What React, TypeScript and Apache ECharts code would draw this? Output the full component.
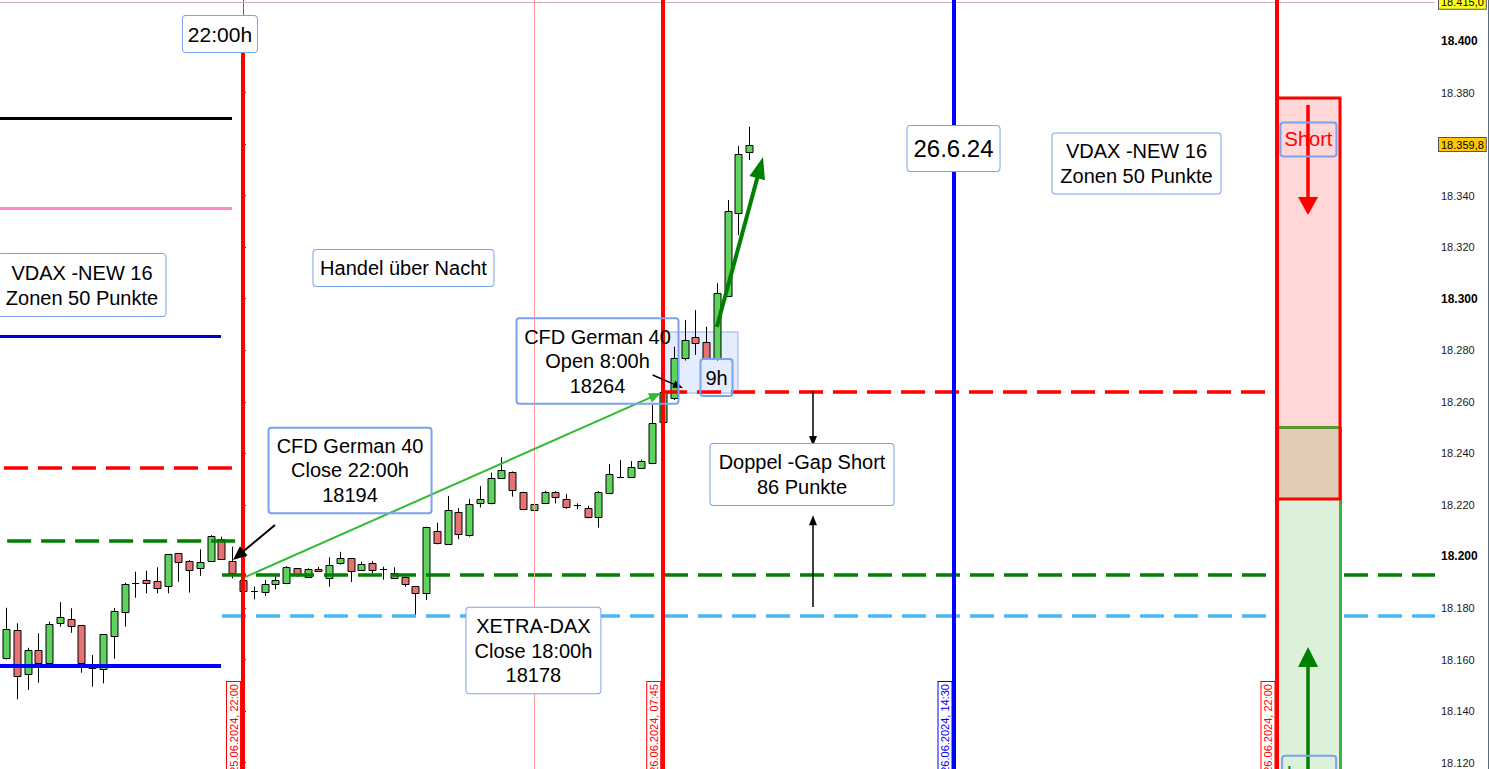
import React, { useEffect, useRef } from "react";
import * as echarts from "echarts";

// ---------- DATA ----------
// x = bar index (15-minute bars), 0 = 25.06.2024 22:00
const firstBarIndex = -22;
const barTimes = [
  "25.06 16:30", "25.06 16:45", "25.06 17:00", "25.06 17:15", "25.06 17:30", "25.06 17:45",
  "25.06 18:00", "25.06 18:15", "25.06 18:30", "25.06 18:45", "25.06 19:00", "25.06 19:15",
  "25.06 19:30", "25.06 19:45", "25.06 20:00", "25.06 20:15", "25.06 20:30", "25.06 20:45",
  "25.06 21:00", "25.06 21:15", "25.06 21:30", "25.06 21:45", "25.06 22:00", "25.06 22:15",
  "25.06 22:30", "25.06 22:45", "25.06 23:00", "25.06 23:15", "25.06 23:30", "25.06 23:45",
  "26.06 00:00", "26.06 00:15", "26.06 00:30", "26.06 00:45", "26.06 01:00", "26.06 01:15",
  "26.06 01:30", "26.06 01:45", "26.06 02:00", "26.06 02:15", "26.06 02:30", "26.06 02:45",
  "26.06 03:00", "26.06 03:15", "26.06 03:30", "26.06 03:45", "26.06 04:00", "26.06 04:15",
  "26.06 04:30", "26.06 04:45", "26.06 05:00", "26.06 05:15", "26.06 05:30", "26.06 05:45",
  "26.06 06:00", "26.06 06:15", "26.06 06:30", "26.06 06:45", "26.06 07:00", "26.06 07:15",
  "26.06 07:30", "26.06 07:45", "26.06 08:00", "26.06 08:15", "26.06 08:30", "26.06 08:45",
  "26.06 09:00", "26.06 09:15", "26.06 09:30", "26.06 09:45",
];
const opens = [
  18160.5, 18171.4, 18154.4, 18163.6, 18158.5, 18174.1, 18175.6, 18173.3, 18157.8, 18156.2,
  18169.0, 18178.3, 18189.6, 18190.8, 18190.4, 18188.5, 18201.2, 18198.1, 18195.4, 18198.1,
  18206.7, 18198.1, 18190.8, 18186.6, 18186.2, 18189.2, 18189.6, 18195.4, 18192.2, 18195.0,
  18191.5, 18197.3, 18199.3, 18194.7, 18197.3, 18195.0, 18193.7, 18192.2, 18188.5, 18185.7,
  18209.9, 18204.8, 18217.1, 18208.2, 18220.6, 18220.6, 18230.6, 18232.7, 18225.1, 18218.0,
  18220.6, 18225.1, 18222.3, 18220.0, 18219.0, 18215.2, 18224.7, 18231.0, 18231.0, 18234.2,
  18236.1, 18252.3, 18261.4, 18276.9, 18285.0, 18283.3, 18276.5, 18301.1, 18333.1, 18356.8,
];
const closes = [
  18171.9, 18153.6, 18163.6, 18158.5, 18173.7, 18176.4, 18173.0, 18158.5, 18156.7, 18169.8,
  18178.7, 18189.3, 18189.6, 18189.6, 18187.6, 18200.8, 18197.7, 18194.6, 18197.7, 18207.9,
  18198.9, 18193.5, 18186.7, 18186.6, 18189.2, 18190.9, 18196.0, 18193.2, 18195.0, 18194.4,
  18196.6, 18199.3, 18194.4, 18197.0, 18194.7, 18195.0, 18191.8, 18189.2, 18185.7, 18211.3,
  18205.1, 18218.0, 18208.7, 18220.2, 18222.3, 18230.3, 18233.5, 18225.8, 18218.3, 18220.2,
  18225.1, 18223.0, 18219.1, 18220.0, 18215.4, 18224.9, 18231.9, 18231.0, 18234.8, 18237.2,
  18251.7, 18263.8, 18276.9, 18284.0, 18282.9, 18276.5, 18302.3, 18334.0, 18356.0, 18359.8,
];
const lows = [
  18160.0, 18144.6, 18148.2, 18151.0, 18158.2, 18172.8, 18170.4, 18154.9, 18149.5, 18150.8,
  18160.3, 18172.8, 18184.0, 18185.7, 18185.7, 18185.7, 18190.2, 18186.0, 18192.5, 18198.1,
  18198.9, 18191.5, 18186.5, 18183.4, 18184.7, 18187.3, 18189.6, 18192.0, 18192.2, 18194.0,
  18188.3, 18196.9, 18190.1, 18194.4, 18193.5, 18191.0, 18191.4, 18188.3, 18176.6, 18183.1,
  18204.7, 18204.6, 18206.7, 18207.7, 18219.0, 18220.2, 18230.3, 18223.2, 18218.0, 18217.7,
  18220.6, 18220.6, 18218.5, 18218.3, 18214.8, 18211.2, 18224.5, 18230.8, 18230.8, 18234.0,
  18235.8, 18251.7, 18260.7, 18276.0, 18278.2, 18276.2, 18276.0, 18300.7, 18324.7, 18353.8,
];
const highs = [
  18180.1, 18174.1, 18164.6, 18170.2, 18174.7, 18182.3, 18179.9, 18173.3, 18161.8, 18169.8,
  18180.0, 18189.8, 18194.1, 18194.5, 18195.8, 18200.8, 18201.2, 18198.6, 18202.8, 18208.3,
  18207.7, 18203.8, 18191.5, 18188.3, 18190.9, 18192.4, 18196.3, 18195.4, 18195.4, 18196.0,
  18199.7, 18201.8, 18199.3, 18198.0, 18198.2, 18196.0, 18195.8, 18192.2, 18188.5, 18211.5,
  18213.1, 18223.5, 18218.8, 18222.3, 18227.3, 18232.5, 18238.5, 18233.0, 18225.1, 18222.9,
  18225.5, 18225.3, 18224.2, 18220.6, 18219.7, 18225.4, 18235.9, 18237.4, 18237.0, 18237.6,
  18258.8, 18268.5, 18281.4, 18291.7, 18295.6, 18289.1, 18306.0, 18338.3, 18359.3, 18366.7,
];

// y tick labels (18.360 is hidden by the last-price label)
const yTickValues = [
  18120, 18140, 18160, 18180, 18200, 18220, 18240, 18260, 18280, 18300, 18320, 18340, 18380, 18400,
];
const lastPrice = 18359.8;
const topPrice = 18415.0;

// horizontal levels
const vdaxLevels = [18370, 18335, 18285.5, 18157.5];
const leftRedDashed = 18234.3;
const leftGreenDashed = 18206;
const cfdClose = 18193;
const xetraClose = 18177;
const cfdOpen = 18264;

// vertical time markers (bar index)
const markerIndex = [0, 39, 66, 96];
const markerLabels = ["25.06.2024, 22:00", "26.06.2024, 07:45", "26.06.2024, 14:30", "26.06.2024, 22:00"];
const thinMarkerIndex = 27;

// trading zones
const shortZone = [18222.3, 18377.9];
const longZone = [18117.55, 18250.2];

// annotation texts
const txt22h = "22:00h";
const txtVdax = "VDAX -NEW 16\nZonen 50 Punkte";
const txtNight = "Handel über Nacht";
const txtCfdClose = "CFD German 40\nClose 22:00h\n18194";
const txtCfdOpen = "CFD German 40\nOpen 8:00h\n18264";
const txt9h = "9h";
const txtGap = "Doppel -Gap Short\n86 Punkte";
const txtXetra = "XETRA-DAX\nClose 18:00h\n18178";
const txtDate = "26.6.24";
const txtShort = "Short";
const txtLong = "Long";

// ---------- STYLE ----------
const FONT = "'Liberation Sans', Arial, Helvetica, sans-serif";
const GREEN_BODY = "#5dd35d";
const RED_BODY = "#e57373";
const BOX_BORDER = "#7aa2ef";
const X_MIN = -22.565;
const X_MAX = 110.69;
const Y_MIN = 18117.55;
const Y_MAX = 18415.9;

const fmtPrice = (v: number) => {
  const s = Math.round(v).toString();
  return s.slice(0, s.length - 3) + "." + s.slice(-3);
};

const textBox = (
  coord: number[],
  text: string,
  o: {
    fontSize: number; lineHeight: number; padding: number[]; width?: number;
    bg: string; color?: string; borderColor?: string; rotate?: number; radius?: number; offset?: number[];
  }
) => ({
  coord,
  symbol: "rect",
  symbolSize: 1,
  itemStyle: { color: "rgba(0,0,0,0)" },
  label: {
    show: true,
    position: "inside",
    formatter: text,
    color: o.color ?? "#000",
    fontSize: o.fontSize,
    fontFamily: FONT,
    lineHeight: o.lineHeight,
    padding: o.padding,
    width: o.width,
    rotate: o.rotate ?? 0,
    offset: o.offset ?? [0, 0],
    align: "center",
    verticalAlign: "middle",
    backgroundColor: o.bg,
    borderColor: o.borderColor ?? BOX_BORDER,
    borderWidth: 1,
    borderRadius: o.radius ?? 3,
  },
});

const seg = (
  a: number[], b: number[], style: any, endSymbol?: string, endSize?: number[]
) => [
  { coord: a, lineStyle: style, symbol: "none" },
  endSymbol ? { coord: b, symbol: endSymbol, symbolSize: endSize } : { coord: b, symbol: "none" },
];

export default function App() {
  const ref = useRef<HTMLDivElement>(null);

  useEffect(() => {
    document.body.style.margin = "0";
    if (!ref.current) return;
    const chart = echarts.init(ref.current, undefined, { renderer: "svg" });

    const candleData = opens.map((o, i) => [firstBarIndex + i, o, closes[i], lows[i], highs[i], barTimes[i]]);

    const solid = (color: string, width: number) => ({ color, width, type: "solid", opacity: 1 });
    const dashed = (color: string, width: number) => ({ color, width, type: [24, 10], opacity: 1 });

    const option: any = {
      animation: false,
      backgroundColor: "#ffffff",
      grid: { left: 0, right: 54, top: 0, bottom: 0, containLabel: false, outerBoundsMode: "none" },
      xAxis: { type: "value", min: X_MIN, max: X_MAX, show: false },
      yAxis: [
        {
          type: "value",
          position: "right",
          min: Y_MIN,
          max: Y_MAX,
          offset: 0,
          splitLine: { show: false },
          axisLine: { show: true, lineStyle: { color: "#5a6b7c", width: 1 } },
          axisTick: {
            show: true,
            length: 3,
            customValues: [...yTickValues, lastPrice, topPrice],
            lineStyle: { color: "#3a4652" },
          },
          axisLabel: {
            show: true,
            customValues: yTickValues,
            margin: 6,
            fontFamily: FONT,
            formatter: (v: number) =>
              Math.round(v) % 100 === 0 ? `{b|${fmtPrice(v)}}` : `{n|${fmtPrice(v)}}`,
            rich: {
              b: { fontWeight: "bold", fontSize: 12, color: "#000", fontFamily: FONT },
              n: { fontSize: 11, color: "#1a1a1a", fontFamily: FONT },
            },
          },
        },
        {
          type: "value",
          position: "right",
          offset: 53,
          min: Y_MIN,
          max: Y_MAX,
          splitLine: { show: false },
          axisLine: { show: true, lineStyle: { color: "#5a6b7c", width: 1 } },
          axisTick: { show: false },
          axisLabel: { show: false },
        },
      ],
      series: [
        // light blue "9h" zone under candles
        {
          type: "line",
          data: [],
          markArea: {
            silent: true,
            z: 1,
            label: { show: false },
            data: [
              [
                { coord: [markerIndex[1], 18263.4], itemStyle: { color: "rgba(120,160,245,0.2)", borderColor: "#8fb0f2", borderWidth: 1 } },
                { coord: [45.97, 18287.1] },
              ],
            ],
          },
        },
        // candles
        {
          type: "custom",
          z: 2,
          data: candleData,
          encode: { x: 0, y: [1, 2, 3, 4] },
          renderItem: (_p: any, api: any) => {
            const k = api.value(0);
            const o = api.value(1);
            const c = api.value(2);
            const l = api.value(3);
            const h = api.value(4);
            const pO = api.coord([k, o]);
            const pC = api.coord([k, c]);
            const pL = api.coord([k, l]);
            const pH = api.coord([k, h]);
            const cx = Math.round(pO[0]);
            const top = Math.round(Math.min(pO[1], pC[1])) + 0.5;
            const bot = Math.round(Math.max(pO[1], pC[1])) + 0.5;
            return {
              type: "group",
              children: [
                {
                  type: "line",
                  shape: { x1: cx + 0.5, y1: pH[1], x2: cx + 0.5, y2: pL[1] },
                  style: { stroke: "#000", lineWidth: 1 },
                },
                {
                  type: "rect",
                  shape: { x: cx - 3, y: top, width: 7, height: Math.max(bot - top, 0.01) },
                  style: { fill: c >= o ? GREEN_BODY : RED_BODY, stroke: "#000", lineWidth: 1 },
                },
              ],
            };
          },
        },
        // horizontal levels + price labels
        {
          type: "line",
          data: [],
          markLine: {
            silent: true,
            z: 3,
            symbol: ["none", "none"],
            label: { show: false },
            data: [
              seg([X_MIN, vdaxLevels[0]], [-1.02, vdaxLevels[0]], solid("#000000", 3)),
              seg([X_MIN, vdaxLevels[1]], [-1.02, vdaxLevels[1]], solid("#ff88c8", 3)),
              seg([X_MIN, vdaxLevels[2]], [-2.04, vdaxLevels[2]], solid("#0000d0", 3)),
              seg([X_MIN, vdaxLevels[3]], [-2.04, vdaxLevels[3]], solid("#0000ff", 4)),
              seg([-22.2, leftRedDashed], [-1.02, leftRedDashed], dashed("#ff0000", 3.5)),
              seg([-21.9, leftGreenDashed], [-0.3, leftGreenDashed], dashed("#008000", 3.5)),
              seg([-1.95, cfdClose], [X_MAX, cfdClose], dashed("#008000", 3.5)),
              seg([-1.95, xetraClose], [X_MAX, xetraClose], dashed("#45b8f5", 3.5)),
              seg([markerIndex[1], cfdOpen], [94.9, cfdOpen], dashed("#ff0000", 3.5)),
              {
                yAxis: topPrice,
                lineStyle: { color: "#c9b0ba", width: 1, type: "solid" },
                label: {
                  show: true, position: "end", distance: 4, formatter: "18.415,0",
                  color: "#000", fontSize: 11, fontFamily: FONT, backgroundColor: "#ffff20",
                  borderColor: "#555", borderWidth: 1, padding: [1, 2],
                },
              },
              {
                yAxis: lastPrice,
                lineStyle: { color: "rgba(0,0,0,0)", width: 0 },
                label: {
                  show: true, position: "end", distance: 4, formatter: "18.359,8",
                  color: "#000", fontSize: 11, fontFamily: FONT, backgroundColor: "#ffc800",
                  borderColor: "#555", borderWidth: 1, padding: [1, 2],
                },
              },
            ],
          },
        },
        // long zone fill
        {
          type: "line",
          data: [],
          markArea: {
            silent: true,
            z: 4,
            label: { show: false },
            data: [
              [
                { coord: [markerIndex[3], longZone[0]], itemStyle: { color: "#ddf1da", borderWidth: 0 } },
                { coord: [101.87, longZone[1]] },
              ],
            ],
          },
        },
        // long zone border (top and right)
        {
          type: "line",
          data: [],
          markLine: {
            silent: true,
            z: 4,
            symbol: ["none", "none"],
            label: { show: false },
            data: [
              seg([markerIndex[3], longZone[1]], [101.87, longZone[1]], solid("#3cb43c", 3)),
              seg([101.87, longZone[0]], [101.87, longZone[1]], solid("#3cb43c", 3)),
            ],
          },
        },
        // short zone
        {
          type: "line",
          data: [],
          markArea: {
            silent: true,
            z: 5,
            label: { show: false },
            data: [
              [
                { coord: [markerIndex[3], shortZone[0]], itemStyle: { color: "rgba(255,0,0,0.157)", borderColor: "#ff0000", borderWidth: 3 } },
                { coord: [101.87, shortZone[1]] },
              ],
            ],
          },
        },
        // vertical lines + arrows
        {
          type: "line",
          data: [],
          markLine: {
            silent: true,
            z: 6,
            symbol: ["none", "none"],
            label: { show: false },
            data: [
              { xAxis: thinMarkerIndex, lineStyle: solid("#ff9a9a", 1) },
              seg([markerIndex[0], Y_MIN], [markerIndex[0], 18400], solid("#ff0000", 4)),
              { xAxis: markerIndex[1], lineStyle: solid("#ff0000", 4) },
              { xAxis: markerIndex[2], lineStyle: solid("#0000ff", 4) },
              { xAxis: markerIndex[3], lineStyle: solid("#ff0000", 4) },
              // arrows
              seg([2.97, 18212.2], [-0.43, 18200.4], solid("#000000", 2), "triangle", [12, 14]),
              seg([0.19, 18192], [38.3, 18262.5], solid("#33bb33", 2), "triangle", [10, 12]),
              seg([38.04, 18270.4], [40.43, 18266.1], solid("#000000", 1.5), "triangle", [8, 10]),
              seg([44.0, 18289], [48.02, 18350.9], solid("#008000", 4), "triangle", [16, 22]),
              seg([52.93, cfdOpen], [52.93, 18244.8], solid("#000000", 1.5), "triangle", [8, 10]),
              seg([52.93, 18180.4], [52.93, 18214.1], solid("#000000", 1.5), "triangle", [8, 10]),
              seg([98.9, 18375.2], [98.9, 18336], solid("#ff0000", 3.5), "triangle", [20, 18]),
              seg([98.9, Y_MIN], [98.9, 18161], solid("#008000", 3.5), "triangle", [20, 20]),
            ],
          },
        },
        // text boxes
        {
          type: "line",
          data: [],
          markPoint: {
            silent: true,
            z: 7,
            data: [
              textBox([-2.14, 18402.7], txt22h, { fontSize: 21, lineHeight: 24, padding: [6, 6], width: 62, bg: "#ffffff" }),
              textBox([-14.95, 18305.3], txtVdax, { fontSize: 20, lineHeight: 25, padding: [6, 3], width: 161, bg: "#ffffff" }),
              textBox([14.9, 18311.9], txtNight, { fontSize: 20, lineHeight: 24, padding: [6, 3], width: 174, bg: "#ffffff" }),
              textBox([9.94, 18233.4], txtCfdClose, { fontSize: 20, lineHeight: 24.5, padding: [6, 5], width: 153, bg: "transparent" }),
              textBox([32.92, 18275.8], txtCfdOpen, { fontSize: 20, lineHeight: 24.5, padding: [6, 5], width: 152, bg: "transparent" }),
              textBox([43.97, 18269.4], txt9h, { fontSize: 20, lineHeight: 25, padding: [6, 4], width: 24, bg: "transparent" }),
              textBox([51.91, 18231.8], txtGap, { fontSize: 20, lineHeight: 24.5, padding: [6, 5], width: 173, bg: "#ffffff" }),
              textBox([26.97, 18163.5], txtXetra, { fontSize: 20, lineHeight: 24.5, padding: [6, 5], width: 124, bg: "#ffffff" }),
              textBox([65.98, 18358.3], txtDate, { fontSize: 24, lineHeight: 29, padding: [8, 5], width: 82, bg: "#ffffff" }),
              textBox([82.97, 18352.5], txtVdax, { fontSize: 20, lineHeight: 25, padding: [5, 2], width: 164, bg: "#ffffff" }),
              textBox([98.94, 18361.8], txtShort, { fontSize: 20, lineHeight: 24, padding: [5, 4], width: 48, bg: "transparent", color: "#ff0000" }),
              textBox([99.0, 18119.6], txtLong, { fontSize: 20, lineHeight: 24, padding: [5, 4], width: 46, bg: "transparent", color: "#008000", offset: [0, 9] }),
              // rotated date labels of the time markers
              textBox([markerIndex[0] - 0.88, 18133.3], markerLabels[0], { fontSize: 11, lineHeight: 11, padding: [1, 2], bg: "#ffffff", color: "#ff0000", borderColor: "#ff0000", rotate: 90, radius: 0 }),
              textBox([markerIndex[1] - 0.86, 18133.3], markerLabels[1], { fontSize: 11, lineHeight: 11, padding: [1, 2], bg: "#ffffff", color: "#ff0000", borderColor: "#ff0000", rotate: 90, radius: 0 }),
              textBox([markerIndex[2] - 0.81, 18133.3], markerLabels[2], { fontSize: 11, lineHeight: 11, padding: [1, 2], bg: "#ffffff", color: "#0000ff", borderColor: "#0000ff", rotate: 90, radius: 0 }),
              textBox([markerIndex[3] - 0.82, 18133.3], markerLabels[3], { fontSize: 11, lineHeight: 11, padding: [1, 2], bg: "#ffffff", color: "#ff0000", borderColor: "#ff0000", rotate: 90, radius: 0 }),
            ],
          },
        },
      ],
    };

    chart.setOption(option);
    return () => chart.dispose();
  }, []);

  return (
    <div
      ref={ref}
      style={{ position: "absolute", left: 0, top: 0, width: 1489, height: 769, background: "#fff" }}
    />
  );
}
